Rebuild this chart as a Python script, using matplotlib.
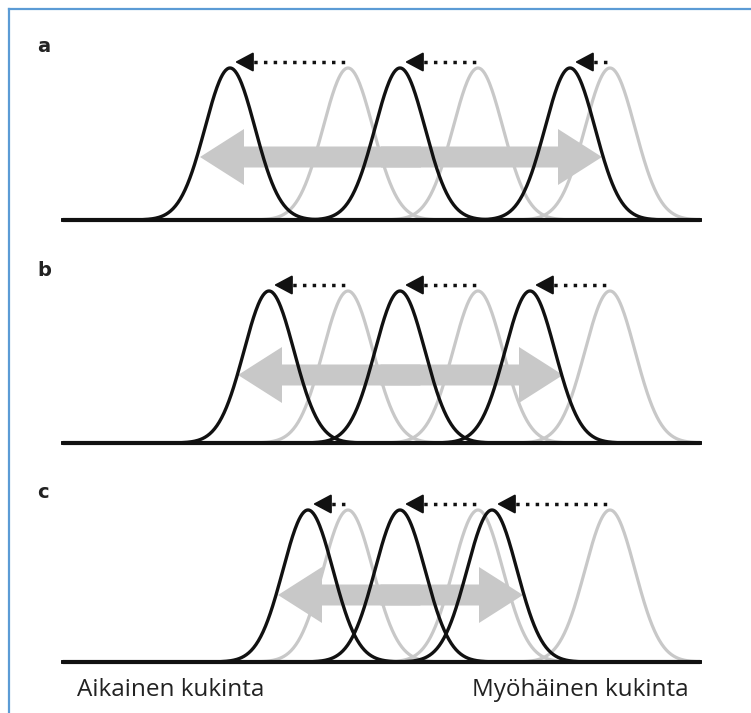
import numpy as np
import matplotlib.pyplot as plt
from matplotlib.lines import Line2D

# flowering-time curves, x in pixel-like time units, y down (image style)
panel_labels = ['a', 'b', 'c']
baseline_y = [220, 443, 662]
peak_height = 152
sigma = 25
black_peaks = [[230, 400, 570], [269, 400, 530], [308, 400, 492]]
gray_peaks = [[348, 478, 610], [348, 478, 610], [348, 478, 610]]
spread_left = [200, 238, 278]
spread_right = [602, 563, 523]
spread_y = [157, 375, 595]
label_y = [46, 270, 492]
x_start, x_end = 63, 700

fig = plt.figure(figsize=(7.51, 7.13), dpi=100)
ax = fig.add_axes([0, 0, 1, 1])
ax.set_xlim(0, 751)
ax.set_ylim(713, 0)
ax.axis('off')

x = np.linspace(x_start, x_end, 800)

for i in range(3):
    y0 = baseline_y[i]
    top = y0 - peak_height
    for mu in gray_peaks[i]:
        ax.plot(x, y0 - peak_height * np.exp(-(x - mu) ** 2 / (2 * sigma ** 2)),
                color='#c8c8c8', lw=2.3, zorder=2)
    # wide double arrow: two halves that overlap in the middle
    mid = (spread_left[i] + spread_right[i]) / 2
    for start, end in ((mid + 20, spread_left[i]), (mid - 20, spread_right[i])):
        ax.arrow(start, spread_y[i], end - start, 0, width=21, head_width=56,
                 head_length=44, length_includes_head=True,
                 color='#c8c8c8', lw=0, zorder=3)
    for mu in black_peaks[i]:
        ax.plot(x, y0 - peak_height * np.exp(-(x - mu) ** 2 / (2 * sigma ** 2)),
                color='#111111', lw=2.4, zorder=4)
    # dotted shift arrows
    for g, b in zip(gray_peaks[i], black_peaks[i]):
        ya = top - 6
        ax.plot([b + 14, g], [ya, ya], color='#111111', lw=2.5,
                linestyle=(0, (1, 1.8)), zorder=5)
        ax.annotate('', xy=(b + 5, ya), xytext=(b + 17, ya),
                    arrowprops=dict(arrowstyle='-|>,head_length=0.75,head_width=0.4',
                                    color='#111111', lw=1.5, shrinkA=0, shrinkB=0,
                                    mutation_scale=15), zorder=5)
    ax.plot([x_start, x_end], [y0, y0], color='#111111', lw=3, zorder=6,
            solid_capstyle='round')
    ax.text(37, label_y[i], panel_labels[i], fontsize=14, fontweight='bold',
            ha='left', va='center', color='#222222')

ax.text(77, 690, 'Aikainen kukinta', fontsize=17.5, family='Open Sans',
        ha='left', va='center', color='#222222')
ax.text(689, 690, 'Myöhäinen kukinta', fontsize=17.5, family='Open Sans',
        ha='right', va='center', color='#222222')

# frame edges of the original screenshot
fig.add_artist(Line2D([8.5 / 751, 8.5 / 751], [0, 1 - 8.5 / 713],
                      color='#5b9bd5', lw=1.6))
fig.add_artist(Line2D([8.5 / 751, 1], [1 - 8.5 / 713, 1 - 8.5 / 713],
                      color='#5b9bd5', lw=1.6))

fig.savefig('out.png', dpi=100)
